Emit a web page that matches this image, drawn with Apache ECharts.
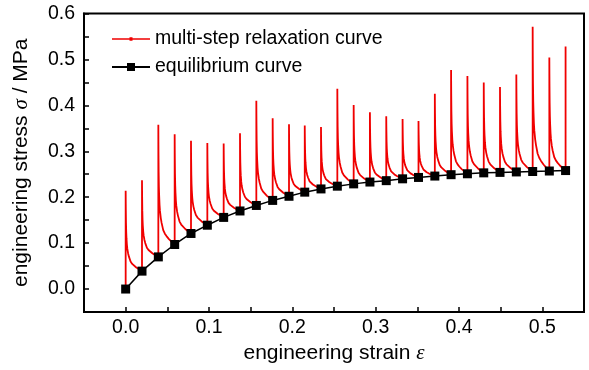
<!DOCTYPE html>
<html>
<head>
<meta charset="utf-8">
<script src="https://cdn.jsdelivr.net/npm/echarts@6/dist/echarts.min.js"></script>
<style>
html,body{margin:0;padding:0;background:#fff;}
#chart{width:589px;height:370px;}
</style>
</head>
<body>
<div id="chart"></div>
<script>
// Strain at each relaxation step
const strain = [0.000, 0.0196, 0.0392, 0.0588, 0.0784, 0.0980, 0.1176, 0.1372, 0.1568, 0.1764,
  0.1960, 0.2149, 0.2344, 0.2540, 0.2736, 0.2931, 0.3127, 0.3323, 0.3514, 0.3710,
  0.3905, 0.4101, 0.4297, 0.4492, 0.4688, 0.4884, 0.5084, 0.5279];
// Equilibrium stress (MPa)
const equilibrium = [0.000, 0.039, 0.070, 0.097, 0.121, 0.139, 0.156, 0.170, 0.182, 0.193,
  0.202, 0.211, 0.218, 0.224, 0.229, 0.233, 0.236, 0.240, 0.243, 0.246,
  0.249, 0.251, 0.253, 0.254, 0.255, 0.256, 0.257, 0.258];
// Peak stress of each relaxation step (MPa)
const peak = [0.214, 0.237, 0.358, 0.337, 0.323, 0.318, 0.317, 0.339, 0.410, 0.372,
  0.359, 0.356, 0.353, 0.436, 0.401, 0.385, 0.376, 0.370, 0.366, 0.425,
  0.477, 0.464, 0.450, 0.440, 0.467, 0.571, 0.504, 0.528];
// Shape of a relaxation decay:
// position within the step (fraction) and remaining overstress (fraction)
const decayPos    = [0, 0.005, 0.01, 0.02, 0.035, 0.05, 0.075, 0.1, 0.15, 0.2, 0.3, 0.4, 0.5, 0.65, 0.8, 0.9, 1];
const decayRemain = [1, 0.85, 0.75, 0.60, 0.48, 0.41, 0.33, 0.28, 0.22, 0.18, 0.12, 0.09, 0.07, 0.045, 0.025, 0.012, 0];
const xTicks = [0.0, 0.1, 0.2, 0.3, 0.4, 0.5];
const yTicks = [0.0, 0.1, 0.2, 0.3, 0.4, 0.5, 0.6];

const relaxation = [];
for (let k = 0; k < strain.length; k++) {
  relaxation.push([strain[k], equilibrium[k]]);
  relaxation.push([strain[k], peak[k]]);
  if (k + 1 < strain.length) {
    for (let j = 1; j < decayPos.length; j++) {
      relaxation.push([
        strain[k] + decayPos[j] * (strain[k + 1] - strain[k]),
        equilibrium[k + 1] + decayRemain[j] * (peak[k] - equilibrium[k + 1])
      ]);
    }
  } else {
    relaxation.push([strain[k], equilibrium[k]]);
  }
}
const eqData = strain.map((x, i) => [x, equilibrium[i]]);

function tickLabel(list) {
  return function (v) {
    for (const t of list) if (Math.abs(v - t) < 1e-6) return t.toFixed(1);
    return '';
  };
}

const FONT = 'Liberation Sans, Arial, sans-serif';
const RED = '#f00000';
// legend glyph for the relaxation curve: thin line with a tiny marker in the middle
const RELAX_ICON = 'path://M0,0M38,10M0,4.2L38,4.2L38,5.8L0,5.8ZM17.5,3.2L20.5,3.2L20.5,6.8L17.5,6.8Z';
const chart = echarts.init(document.getElementById('chart'), null, {renderer: 'canvas'});
chart.setOption({
  animation: false,
  backgroundColor: '#fff',
  grid: {left: 84, right: 5, top: 13.5, bottom: 58, outerBoundsMode: 'none', containLabel: false,
    show: true, borderColor: '#000', borderWidth: 2, backgroundColor: 'transparent'},
  legend: {
    orient: 'vertical', left: 106, top: 24, itemWidth: 38, itemHeight: 10, itemGap: 8, itemTextGap: 5,
    textStyle: {fontFamily: FONT, fontSize: 19.5, color: '#000', lineHeight: 20},
    data: [
      {name: 'multi-step relaxation curve', icon: RELAX_ICON},
      {name: 'equilibrium curve'}
    ]
  },
  xAxis: {
    type: 'value', min: -0.05, max: 0.55, interval: 0.05,
    name: 'engineering strain {i|ε}', nameLocation: 'middle', nameGap: 30,
    nameTextStyle: {fontFamily: FONT, fontSize: 21, color: '#000',
      rich: {i: {fontFamily: 'Liberation Serif, serif', fontStyle: 'italic', fontSize: 21, color: '#000'}}},
    axisLine: {onZero: false, lineStyle: {color: '#000', width: 2}},
    axisTick: {inside: true, length: 5, lineStyle: {color: '#000', width: 1.5}},
    axisLabel: {interval: 0, fontFamily: FONT, fontSize: 19.5, color: '#000', margin: 6, formatter: tickLabel(xTicks)},
    splitLine: {show: false}
  },
  yAxis: {
    type: 'value', min: -0.05, max: 0.6, interval: 0.05,
    name: 'engineering stress {i|σ} / MPa', nameLocation: 'middle', nameGap: 52, nameRotate: 90,
    nameTextStyle: {fontFamily: FONT, fontSize: 21, color: '#000',
      rich: {i: {fontFamily: 'Liberation Serif, serif', fontStyle: 'italic', fontSize: 21, color: '#000'}}},
    axisLine: {onZero: false, lineStyle: {color: '#000', width: 2}},
    axisTick: {inside: true, length: 5, lineStyle: {color: '#000', width: 1.5}},
    axisLabel: {interval: 0, fontFamily: FONT, fontSize: 19.5, color: '#000', margin: 9, formatter: tickLabel(yTicks)},
    splitLine: {show: false}
  },
  series: [
    {
      name: 'multi-step relaxation curve', type: 'line', data: relaxation,
      symbol: 'none',
      itemStyle: {color: RED},
      lineStyle: {color: RED, width: 1.8}, z: 2
    },
    {
      name: 'equilibrium curve', type: 'line', data: eqData,
      symbol: 'rect', symbolSize: 9,
      itemStyle: {color: '#000'},
      lineStyle: {color: '#000', width: 1.5}, z: 3
    }
  ]
});
</script>
</body>
</html>
